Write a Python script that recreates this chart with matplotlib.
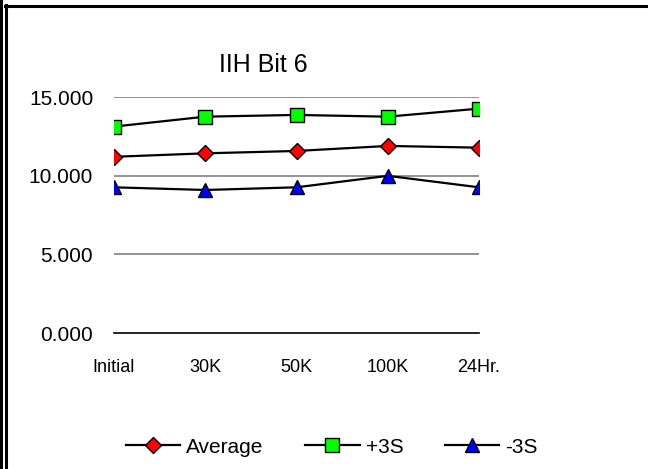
import numpy as np
import matplotlib.pyplot as plt
from matplotlib.lines import Line2D

plt.rcParams['font.family'] = ['Liberation Sans', 'DejaVu Sans']

# Datos
categorias = ["Initial", "30K", "50K", "100K", "24Hr."]
promedio = [11.20, 11.42, 11.57, 11.89, 11.78]
mas_3s = [13.12, 13.75, 13.86, 13.75, 14.26]
menos_3s = [9.26, 9.09, 9.26, 9.99, 9.26]
y_ticks = [0, 5, 10, 15]

W, H = 648, 469
fig = plt.figure(figsize=(W / 100, H / 100), dpi=100)
ax = fig.add_axes([114 / W, 1 - 333 / H, (479 - 114) / W, (333 - 97) / H])

x = np.arange(len(categorias))
ax.plot(x, promedio, color='black', lw=1.6, marker='D', ms=8.5,
        mfc='#ff0000', mec='black', mew=1, label='Average', zorder=3)
ax.plot(x, mas_3s, color='black', lw=1.6, marker='s', ms=9.5,
        mfc='#00ff00', mec='black', mew=1, label='+3S', zorder=3)
ax.plot(x, menos_3s, color='black', lw=1.6, marker='^', ms=10,
        mfc='#0000ff', mec='black', mew=1, label='-3S', zorder=3)

ax.set_xlim(0, len(categorias) - 1)
ax.set_ylim(0, 15)
ax.set_yticks(y_ticks)
ax.set_yticklabels([f"{v:.3f}" for v in y_ticks], fontsize=15)
ax.set_xticks(x)
ax.set_xticklabels(categorias, fontsize=13)
ax.tick_params(length=0)
ax.tick_params(axis='y', pad=15)
ax.tick_params(axis='x', pad=19)
for v in y_ticks[1:]:
    ax.axhline(v, color='#808080', lw=1.2, zorder=1)
for s in ['left', 'right', 'top']:
    ax.spines[s].set_visible(False)
ax.spines['bottom'].set_linewidth(1.2)
ax.spines['bottom'].set_color('black')
ax.patch.set_alpha(0)

fig.text(263 / W, 1 - 65 / H, "IIH Bit 6", fontsize=18, ha='center', va='center')

fig.legend(loc='center', bbox_to_anchor=(332 / W, 1 - 447 / H), ncol=3,
           frameon=False, fontsize=15, handlelength=2.6, handletextpad=0.3,
           columnspacing=2.0)

# Marco del gráfico
fig.add_artist(Line2D([1 / W, 1 / W], [0, 1], color='black', lw=2.2))
fig.add_artist(Line2D([6 / W, 6 / W], [0, 1 - 5 / H], color='black', lw=2.2))
fig.add_artist(Line2D([5 / W, 1], [1 - 6 / H, 1 - 6 / H], color='black', lw=2.2))

fig.savefig("out.png", dpi=100)
